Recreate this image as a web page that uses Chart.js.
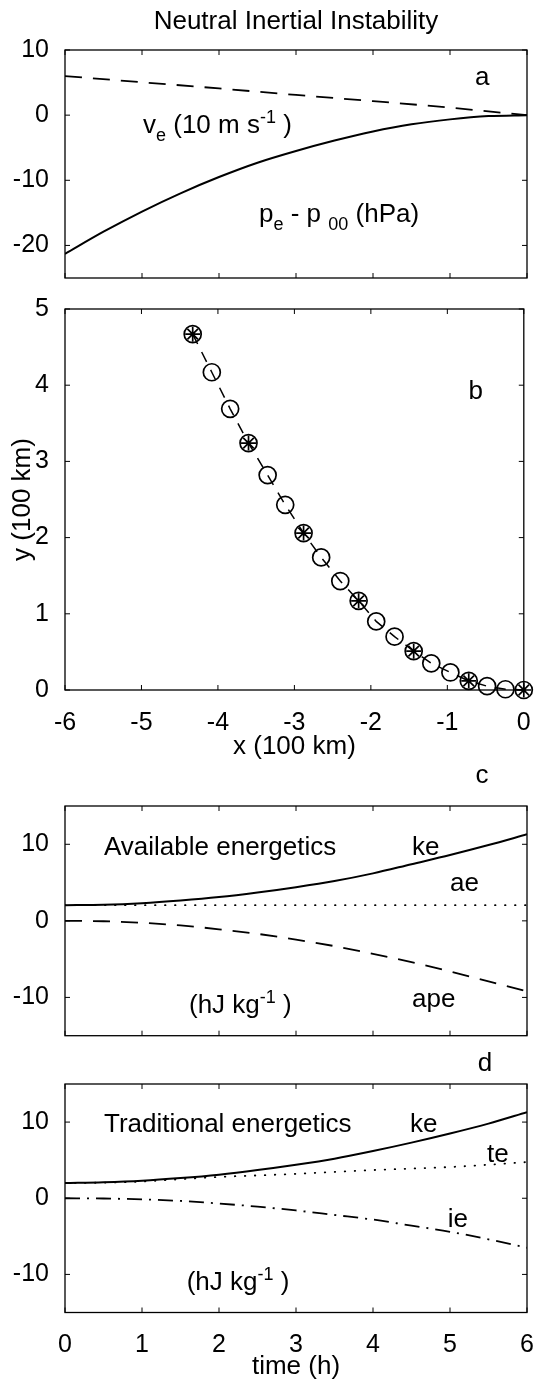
<!DOCTYPE html>
<html>
<head>
<meta charset="utf-8">
<script src="https://cdn.jsdelivr.net/npm/chart.js@4.4.1/dist/chart.umd.min.js"></script>
<style>
  body { margin: 0; background: #fff; }
  #wrap { position: relative; width: 534px; height: 1382px; }
  canvas { position: absolute; left: 0; }
</style>
</head>
<body>
<div id="wrap">
  <canvas id="panelA" width="534" height="288" style="top:0px"></canvas>
  <canvas id="panelB" width="534" height="475" style="top:288px"></canvas>
  <canvas id="panelC" width="534" height="280" style="top:763px"></canvas>
  <canvas id="panelD" width="534" height="339" style="top:1043px"></canvas>
</div>
<script>
// panel a: x (100 km)
const xA = [-6, -5.5, -5, -4.5, -4, -3.5, -3, -2.5, -2, -1.5, -1, -0.5, 0];
const pressA = [-21.3, -17.9, -14.8, -12.0, -9.5, -7.3, -5.5, -3.9, -2.5, -1.4, -0.65, -0.15, 0];
const xVe = [-6, -5, -4, -3, -2, -1, 0];
const veA = [6.0, 5.05, 4.1, 3.1, 2.15, 1.15, 0];

// panel b: parcel path
const pathX = [-4.33, -4.08, -3.84, -3.60, -3.35, -3.12, -2.88, -2.65, -2.40, -2.16, -1.93, -1.69, -1.44, -1.21, -0.96, -0.72, -0.48, -0.24, 0];
const pathY = [4.67, 4.17, 3.69, 3.24, 2.82, 2.43, 2.06, 1.74, 1.43, 1.17, 0.90, 0.70, 0.51, 0.35, 0.23, 0.12, 0.05, 0.01, 0];
const starIdx = [0, 3, 6, 9, 12, 15, 18];

// panels c, d: time (h)
const hours = [0, 0.5, 1, 1.5, 2, 2.5, 3, 3.5, 4, 4.5, 5, 5.5, 6];
const keC = [2.05, 2.1, 2.3, 2.65, 3.1, 3.7, 4.4, 5.2, 6.2, 7.4, 8.6, 9.9, 11.3];
const aeC = [2.05, 2.05, 2.05, 2.05, 2.05, 2.05, 2.05, 2.05, 2.05, 2.05, 2.05, 2.05, 2.05];
const apeC = [0, -0.05, -0.25, -0.6, -1.1, -1.7, -2.45, -3.3, -4.3, -5.4, -6.6, -7.9, -9.2];
const keD = [2.0, 2.1, 2.3, 2.65, 3.1, 3.7, 4.4, 5.2, 6.2, 7.3, 8.5, 9.8, 11.3];
const teD = [2.0, 2.05, 2.2, 2.5, 2.8, 3.0, 3.2, 3.45, 3.7, 3.9, 4.1, 4.4, 4.75];
const ieD = [0, -0.03, -0.15, -0.35, -0.7, -1.1, -1.6, -2.2, -2.8, -3.6, -4.4, -5.4, -6.5];

// tick values
const xTicksSpace = [-6, -5, -4, -3, -2, -1, 0];
const xTicksTime = [0, 1, 2, 3, 4, 5, 6];
const yTicksA = [-20, -10, 0, 10];
const yTicksB = [0, 1, 2, 3, 4, 5];
const yTicksE = [-10, 0, 10];

const FONT = "'Liberation Sans', Arial, Helvetica, sans-serif";
Chart.defaults.font.family = FONT;
Chart.defaults.color = '#000';

function pts(xs, ys) {
    return xs.map((x, i) => ({ x: x, y: ys[i] }));
}

// box round the plot with inward ticks on all four sides
const framePlugin = {
    id: 'frame',
    afterDraw(chart) {
        const { ctx, chartArea: a, scales } = chart;
        const len = 5;
        ctx.save();
        ctx.strokeStyle = '#000';
        ctx.lineWidth = 1.3;
        ctx.strokeRect(a.left, a.top, a.right - a.left, a.bottom - a.top);
        ctx.lineWidth = 1;
        ctx.beginPath();
        scales.x.ticks.forEach(t => {
            const px = scales.x.getPixelForValue(t.value);
            ctx.moveTo(px, a.bottom); ctx.lineTo(px, a.bottom - len);
            ctx.moveTo(px, a.top); ctx.lineTo(px, a.top + len);
        });
        scales.y.ticks.forEach(t => {
            const py = scales.y.getPixelForValue(t.value);
            ctx.moveTo(a.left, py); ctx.lineTo(a.left + len, py);
            ctx.moveTo(a.right, py); ctx.lineTo(a.right - len, py);
        });
        ctx.stroke();
        ctx.restore();
    }
};

// text labels placed in data units, with sub/superscripts
function notesPlugin(items) {
    return {
        id: 'notes',
        afterDraw(chart) {
            const { ctx, scales } = chart;
            ctx.save();
            ctx.fillStyle = '#000';
            ctx.textAlign = 'left';
            ctx.textBaseline = 'alphabetic';
            items.forEach(n => {
                let px = scales.x.getPixelForValue(n.x);
                const py = scales.y.getPixelForValue(n.y);
                if (n.center) {
                    // shift left by half the full width
                    let w = 0;
                    n.parts.forEach(([txt, kind]) => {
                        ctx.font = (kind ? 18 : 26) + 'px ' + FONT;
                        w += ctx.measureText(txt).width;
                    });
                    px -= w / 2;
                }
                n.parts.forEach(([txt, kind]) => {
                    const size = kind ? 18 : 26;
                    const dy = kind === 'sub' ? 8 : (kind === 'sup' ? -10 : 0);
                    ctx.font = size + 'px ' + FONT;
                    ctx.fillText(txt, px, py + dy);
                    px += ctx.measureText(txt).width;
                });
            });
            ctx.restore();
        }
    };
}

function lineSet(data, width, dash, cap) {
    return {
        data: data,
        borderColor: '#000',
        borderWidth: width,
        borderDash: dash,
        borderCapStyle: cap || 'butt',
        pointRadius: 0,
        fill: false,
        cubicInterpolationMode: 'monotone'
    };
}

function makePanel(id, o) {
    return new Chart(document.getElementById(id), {
        type: 'line',
        data: { datasets: o.datasets },
        options: {
            responsive: false,
            animation: false,
            events: [],
            layout: { padding: { top: o.padTop, bottom: o.padBottom, left: 0, right: 7 } },
            plugins: {
                legend: { display: false },
                tooltip: { enabled: false },
                title: { display: false }
            },
            scales: {
                x: {
                    type: 'linear',
                    min: o.xMin,
                    max: o.xMax,
                    grid: { display: false },
                    border: { display: false },
                    afterBuildTicks: s => { s.ticks = o.xTicks.map(v => ({ value: v })); },
                    ticks: { display: !!o.xLabels, padding: 10, color: '#000', font: { size: 25 } },
                    title: o.xTitle
                        ? { display: true, text: o.xTitle, color: '#000', font: { size: 26 }, padding: { top: 0, bottom: 0 } }
                        : { display: false },
                    afterFit: s => {
                        s.height = o.xHeight;
                        s.paddingLeft = 0;
                        s.paddingRight = 0;
                    }
                },
                y: {
                    type: 'linear',
                    min: o.yMin,
                    max: o.yMax,
                    grid: { display: false },
                    border: { display: false },
                    afterBuildTicks: s => { s.ticks = o.yTicks.map(v => ({ value: v })); },
                    ticks: { padding: 8, color: '#000', font: { size: 25 } },
                    title: o.yTitle
                        ? { display: true, text: o.yTitle, color: '#000', font: { size: 26 }, padding: { top: 7, bottom: 0 } }
                        : { display: false },
                    afterFit: s => {
                        s.width = 65;
                        s.paddingTop = 0;
                        s.paddingBottom = 0;
                    }
                }
            }
        },
        plugins: [framePlugin, notesPlugin(o.notes)]
    });
}

function setupCharts() {
    // a: equilibrium wind and pressure
    makePanel('panelA', {
        padTop: 50, padBottom: 10, xHeight: 0,
        xMin: -6, xMax: 0, yMin: -25, yMax: 10,
        xTicks: xTicksSpace, yTicks: yTicksA,
        datasets: [
            lineSet(pts(xVe, veA), 1.8, [17, 11]),
            lineSet(pts(xA, pressA), 2, [])
        ],
        notes: [
            { x: -3.0, y: 13.18, center: true, parts: [['Neutral Inertial Instability', '']] },
            { x: -0.675, y: 4.66, parts: [['a', '']] },
            { x: -4.987, y: -2.79, parts: [['v', ''], ['e', 'sub'], [' (10 m s', ''], ['-1', 'sup'], [' )', '']] },
            { x: -3.48, y: -16.4, parts: [['p', ''], ['e', 'sub'], [' - p ', ''], ['00', 'sub'], [' (hPa)', '']] }
        ]
    });

    // b: parcel trajectory
    makePanel('panelB', {
        padTop: 21, padBottom: 0.4, xHeight: 72.6, xLabels: true,
        xMin: -6, xMax: 0, yMin: 0, yMax: 5,
        xTicks: xTicksSpace, yTicks: yTicksB,
        xTitle: 'x (100 km)', yTitle: 'y (100 km)',
        datasets: [
            {
                data: pts(pathX, pathY),
                borderColor: '#000',
                borderWidth: 1.5,
                borderDash: [11, 9],
                tension: 0,
                pointStyle: 'circle',
                pointRadius: 8.5,
                pointBorderWidth: 1.7,
                pointBorderColor: '#000',
                pointBackgroundColor: 'rgba(0,0,0,0)',
                clip: false
            },
            {
                data: starIdx.map(i => ({ x: pathX[i], y: pathY[i] })),
                showLine: false,
                pointStyle: 'star',
                pointRadius: 7.5,
                pointBorderWidth: 1.7,
                pointBorderColor: '#000',
                pointBackgroundColor: 'rgba(0,0,0,0)',
                clip: false
            }
        ],
        notes: [
            { x: -0.723, y: 3.814, parts: [['b', '']] }
        ]
    });

    // c: available energetics
    makePanel('panelC', {
        padTop: 43, padBottom: 7.3, xHeight: 0,
        xMin: 0, xMax: 6, yMin: -15, yMax: 15,
        xTicks: xTicksTime, yTicks: yTicksE,
        datasets: [
            lineSet(pts(hours, keC), 2, []),
            lineSet(pts(hours, aeC), 1.8, [0.5, 9.5], 'round'),
            lineSet(pts(hours, apeC), 1.8, [17, 11])
        ],
        notes: [
            { x: 5.331, y: 17.94, parts: [['c', '']] },
            { x: 0.506, y: 8.55, parts: [['Available energetics', '']] },
            { x: 4.506, y: 8.55, parts: [['ke', '']] },
            { x: 5.0, y: 3.93, parts: [['ae', '']] },
            { x: 1.61, y: -12.07, parts: [['(hJ kg', ''], ['-1', 'sup'], [' )', '']] },
            { x: 4.506, y: -11.21, parts: [['ape', '']] }
        ]
    });

    // d: traditional energetics
    makePanel('panelD', {
        padTop: 41, padBottom: 0, xHeight: 69.5, xLabels: true,
        xMin: 0, xMax: 6, yMin: -15, yMax: 15,
        xTicks: xTicksTime, yTicks: yTicksE,
        xTitle: 'time (h)',
        datasets: [
            lineSet(pts(hours, keD), 2, []),
            lineSet(pts(hours, teD), 1.8, [0.5, 9.5], 'round'),
            lineSet(pts(hours, ieD), 1.8, [15, 7, 2, 7])
        ],
        notes: [
            { x: 5.36, y: 16.65, parts: [['d', '']] },
            { x: 0.506, y: 8.74, parts: [['Traditional energetics', '']] },
            { x: 4.48, y: 8.74, parts: [['ke', '']] },
            { x: 5.48, y: 4.8, parts: [['te', '']] },
            { x: 4.97, y: -3.73, parts: [['ie', '']] },
            { x: 1.58, y: -12.04, parts: [['(hJ kg', ''], ['-1', 'sup'], [' )', '']] }
        ]
    });
}

setupCharts();
</script>
</body>
</html>
